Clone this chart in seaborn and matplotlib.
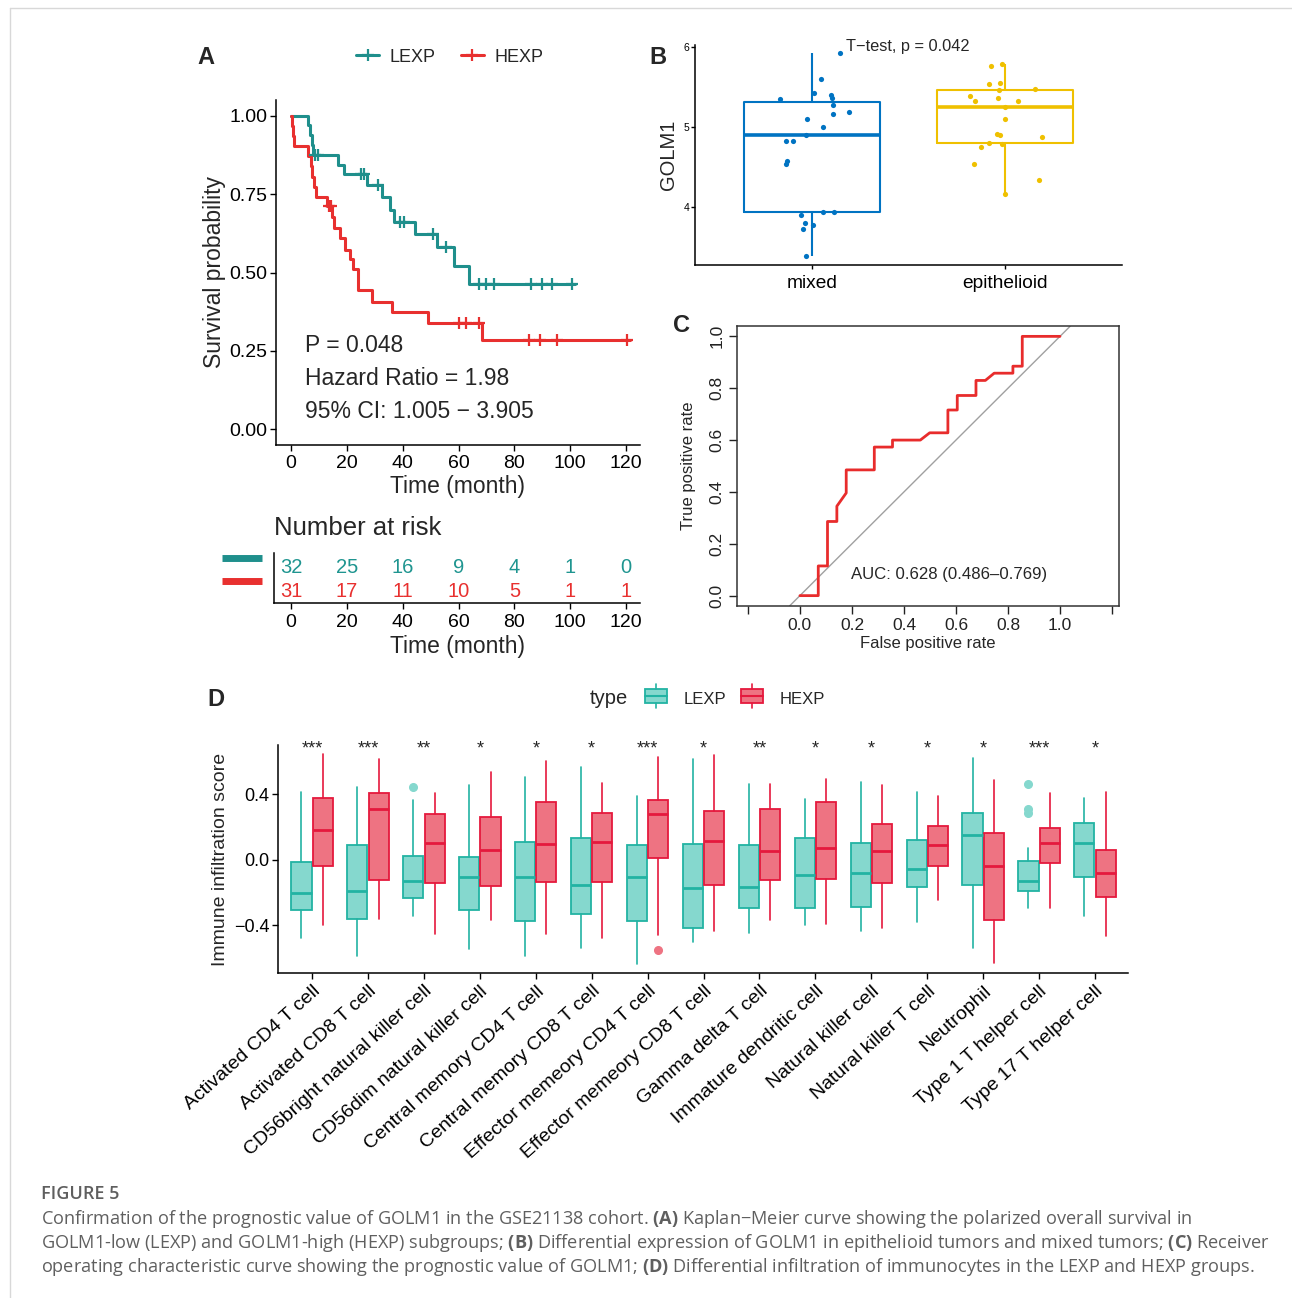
import numpy as np
import pandas as pd
import matplotlib
matplotlib.use("Agg")
import matplotlib.pyplot as plt
from matplotlib.lines import Line2D
from matplotlib.patches import Patch, Rectangle
from matplotlib.legend_handler import HandlerPatch
import seaborn as sns

# ---------------- A: Kaplan-Meier ----------------
km_time_lexp = [0, 6.2, 6.8, 7.4, 8.0, 16.7, 18.8, 27.1, 32.5, 35.5, 36.7, 44.4, 52.2, 58.2, 63.8, 101.8]
km_surv_lexp = [1.0, 0.969, 0.938, 0.906, 0.875, 0.844, 0.8125, 0.78, 0.74, 0.70, 0.662, 0.622, 0.58, 0.52, 0.463, 0.463]
km_cens_lexp = [8.6, 9.6, 25.1, 26.0, 31.3, 39.1, 40.4, 50.8, 55.6, 67.4, 69.9, 72.8, 85.9, 89.8, 93.5, 100.6]

km_time_hexp = [0, 0.3, 0.6, 1.0, 6.2, 7.0, 7.6, 8.2, 8.8, 12.8, 14.6, 15.2, 17.6, 19.4, 21.1, 22.3,
                24.1, 28.9, 36.1, 49.2, 68.3, 121.4]
km_surv_hexp = [1.0, 0.968, 0.935, 0.903, 0.871, 0.839, 0.806, 0.774, 0.742, 0.712, 0.677, 0.641, 0.609,
                0.572, 0.543, 0.51, 0.444, 0.407, 0.373, 0.338, 0.285, 0.285]
km_cens_hexp = [13.5, 14.3, 60.0, 62.7, 67.5, 85.3, 89.2, 95.2, 120.3]

risk_times = [0, 20, 40, 60, 80, 100, 120]
risk_lexp = [32, 25, 16, 9, 4, 1, 0]
risk_hexp = [31, 17, 11, 10, 5, 1, 1]

# ---------------- B: GOLM1 by histology ----------------
golm1_mixed = [5.926, 5.606, 5.42, 5.345, 5.404, 5.366, 5.278, 5.164, 5.185, 5.097, 4.996, 4.90, 4.827,
               4.82, 4.575, 4.54, 3.943, 3.943, 3.90, 3.804, 3.779, 3.72, 3.383]
jit_mixed = [0.144, 0.048, 0.01, -0.166, 0.096, 0.103, 0.11, 0.11, 0.19, -0.024, 0.055, -0.03, -0.135,
             -0.10, -0.13, -0.137, 0.056, 0.115, -0.058, -0.034, 0.005, -0.045, -0.033]
golm1_epi = [5.783, 5.758, 5.539, 5.547, 5.463, 5.472, 5.39, 5.328, 5.36, 5.324, 5.253, 5.10, 4.91,
             4.895, 4.87, 4.806, 4.79, 4.75, 4.541, 4.335, 4.162]
jit_epi = [-0.017, -0.074, -0.082, -0.027, -0.031, 0.154, -0.18, -0.158, -0.038, 0.068, 0.0, 0.0, -0.041,
           -0.026, 0.192, -0.082, -0.014, -0.123, -0.161, 0.175, 0.0]

# ---------------- C: ROC ----------------
roc_fpr = [0, 0.0705, 0.0705, 0.106, 0.106, 0.142, 0.142, 0.178, 0.178, 0.286, 0.286, 0.356, 0.356,
           0.463, 0.499, 0.569, 0.569, 0.605, 0.605, 0.677, 0.677, 0.713, 0.747, 0.819, 0.819, 0.855,
           0.855, 1.0]
roc_tpr = [0, 0, 0.1145, 0.1145, 0.286, 0.286, 0.345, 0.396, 0.485, 0.485, 0.573, 0.573, 0.6,
           0.6, 0.628, 0.628, 0.716, 0.716, 0.772, 0.772, 0.83, 0.83, 0.858, 0.858, 0.885, 0.885,
           1.0, 1.0]

# ---------------- D: immune infiltration ----------------
cells = ["Activated CD4 T cell", "Activated CD8 T cell", "CD56bright natural killer cell",
         "CD56dim natural killer cell", "Central memory CD4 T cell", "Central memory CD8 T cell",
         "Effector memeory CD4 T cell", "Effector memeory CD8 T cell", "Gamma delta T cell",
         "Immature dendritic cell", "Natural killer cell", "Natural killer T cell", "Neutrophil",
         "Type 1 T helper cell", "Type 17 T helper cell"]
# whisker low, Q1, median, Q3, whisker high
lexp_stats = [(-0.479, -0.303, -0.200, -0.012, 0.415), (-0.589, -0.360, -0.193, 0.088, 0.442),
              (-0.344, -0.232, -0.128, 0.026, 0.363), (-0.544, -0.303, -0.102, 0.018, 0.458),
              (-0.585, -0.373, -0.104, 0.108, 0.503), (-0.536, -0.332, -0.155, 0.134, 0.568),
              (-0.635, -0.375, -0.102, 0.088, 0.391), (-0.501, -0.415, -0.169, 0.098, 0.615),
              (-0.448, -0.295, -0.163, 0.088, 0.460), (-0.397, -0.295, -0.094, 0.136, 0.371),
              (-0.436, -0.285, -0.081, 0.102, 0.477), (-0.377, -0.165, -0.059, 0.118, 0.411),
              (-0.538, -0.151, 0.149, 0.287, 0.621), (-0.295, -0.189, -0.128, -0.008, 0.071),
              (-0.342, -0.104, 0.100, 0.222, 0.375)]
hexp_stats = [(-0.400, -0.039, 0.183, 0.379, 0.644), (-0.358, -0.120, 0.312, 0.407, 0.615),
              (-0.452, -0.140, 0.102, 0.279, 0.409), (-0.367, -0.161, 0.061, 0.259, 0.534),
              (-0.450, -0.136, 0.098, 0.354, 0.605), (-0.475, -0.136, 0.106, 0.285, 0.468),
              (-0.456, 0.010, 0.279, 0.363, 0.625), (-0.434, -0.153, 0.114, 0.295, 0.637),
              (-0.365, -0.124, 0.051, 0.310, 0.464), (-0.393, -0.118, 0.071, 0.350, 0.491),
              (-0.413, -0.143, 0.053, 0.220, 0.458), (-0.246, -0.037, 0.088, 0.204, 0.391),
              (-0.629, -0.365, -0.037, 0.165, 0.487), (-0.295, -0.022, 0.100, 0.191, 0.405),
              (-0.466, -0.228, -0.079, 0.061, 0.415)]
lexp_outliers = {2: [0.446], 13: [0.464, 0.308, 0.283]}
hexp_outliers = {6: [-0.548]}
signif = ["***", "***", "**", "*", "*", "*", "***", "*", "**", "*", "*", "*", "*", "***", "*"]

# ---------------- style ----------------
sns.set_theme(style="white")
plt.rcParams["font.family"] = ["Liberation Sans", "DejaVu Sans"]
plt.rcParams["mathtext.fontset"] = "custom"
plt.rcParams["mathtext.rm"] = "Open Sans"
plt.rcParams["mathtext.bf"] = "Open Sans:bold"

TEAL = "#1F8F8C"
RED = "#E8302F"
W, H = 1292, 1298
fig = plt.figure(figsize=(W / 100, H / 100), dpi=100)


def rect(l, t, r, b):
    return [l / W, 1 - b / H, (r - l) / W, (b - t) / H]


def style_axes(ax, size):
    for s in ["top", "right"]:
        ax.spines[s].set_visible(False)
    for s in ["left", "bottom"]:
        ax.spines[s].set_color("black")
        ax.spines[s].set_linewidth(1.1)
    ax.tick_params(direction="out", length=4, width=1, colors="black", labelsize=size, pad=2,
                   left=True, bottom=True)


# ---- A
ax_a = fig.add_axes(rect(276, 100, 640, 445))
sns.lineplot(x=km_time_lexp, y=km_surv_lexp, drawstyle="steps-post", estimator=None, sort=False,
             color=TEAL, linewidth=2.2, ax=ax_a)
sns.lineplot(x=km_time_hexp, y=km_surv_hexp, drawstyle="steps-post", estimator=None, sort=False,
             color=RED, linewidth=2.2, ax=ax_a)
for times, surv, cens, col in [(km_time_lexp, km_surv_lexp, km_cens_lexp, TEAL),
                               (km_time_hexp, km_surv_hexp, km_cens_hexp, RED)]:
    idx = np.searchsorted(times, cens, side="right") - 1
    ax_a.plot(cens, np.asarray(surv)[idx], "+", color=col, ms=9, mew=1.6)
ax_a.set_xlim(-5.4, 125)
ax_a.set_ylim(-0.05, 1.05)
ax_a.set_xticks(risk_times)
ax_a.set_yticks([0, 0.25, 0.5, 0.75, 1.0])
ax_a.set_yticklabels(["0.00", "0.25", "0.50", "0.75", "1.00"])
style_axes(ax_a, 14)
ax_a.tick_params(axis="x", pad=3)
ax_a.set_xlabel("Time (month)", fontsize=16.5, labelpad=2)
ax_a.set_ylabel("Survival probability", fontsize=16.5, labelpad=3)
for y, txt in [(0.268, "P = 0.048"), (0.163, "Hazard Ratio = 1.98"), (0.0575, "95% CI: 1.005 \u2212 3.905")]:
    ax_a.text(5.0, y, txt, fontsize=16.5, ha="left", va="center")
km_handles = [Line2D([], [], color=TEAL, lw=2.2, marker="+", ms=9, mew=1.6),
              Line2D([], [], color=RED, lw=2.2, marker="+", ms=9, mew=1.6)]
fig.legend(km_handles, ["LEXP", "HEXP"], loc="center", bbox_to_anchor=(450 / W, 1 - 57 / H), ncol=2,
           frameon=False, fontsize=13, handlelength=1.25, columnspacing=1.4, handletextpad=0.6)

# risk table
ax_r = fig.add_axes(rect(274, 553, 640, 603))
ax_r.set_xlim(-5.4 - 2 / 2.79, 125)
ax_r.set_ylim(-0.5, 1.6)
for t, nl, nh in zip(risk_times, risk_lexp, risk_hexp):
    ax_r.text(t, 1, str(nl), color="#1F9590", fontsize=14.5, ha="center", va="center")
    ax_r.text(t, 0, str(nh), color=RED, fontsize=14.5, ha="center", va="center")
ax_r.set_xticks(risk_times)
ax_r.set_yticks([])
style_axes(ax_r, 14)
ax_r.tick_params(left=False, pad=4)
ax_r.set_xlabel("Time (month)", fontsize=16.5, labelpad=3)
ax_r.text(0.0, 1.5, "Number at risk", transform=ax_r.transAxes, fontsize=18.5, ha="left", va="center")
for yy, col in [(0.9, TEAL), (0.44, RED)]:
    ax_r.plot([-0.142, -0.033], [yy, yy], color=col, lw=5, transform=ax_r.transAxes, clip_on=False,
              solid_capstyle="butt")

# ---- B
ax_b = fig.add_axes(rect(695, 45, 1122, 265))
dfb = pd.DataFrame({"group": ["mixed"] * len(golm1_mixed) + ["epithelioid"] * len(golm1_epi),
                    "GOLM1": golm1_mixed + golm1_epi})
sns.boxplot(data=dfb, x="group", y="GOLM1", hue="group", order=["mixed", "epithelioid"],
            palette={"mixed": "#0073C2", "epithelioid": "#EFC000"}, fill=False, width=0.705,
            showfliers=False, whis=1.5, linewidth=1.5, ax=ax_b, legend=False,
            whiskerprops={"linewidth": 1.5}, capprops={"linewidth": 0}, medianprops={"linewidth": 2.6})
ax_b.scatter(np.array(jit_mixed), golm1_mixed, s=14, color="#0073C2", zorder=3, linewidths=0)
ax_b.scatter(1 + np.array(jit_epi), golm1_epi, s=14, color="#EFC000", zorder=3, linewidths=0)
ax_b.set_xlim(-0.606, 1.606)
ax_b.set_ylim(3.275, 6.025)
ax_b.set_yticks([4, 5, 6])
style_axes(ax_b, 7.5)
ax_b.tick_params(axis="x", labelsize=13.8, length=3, pad=4)
ax_b.tick_params(axis="y", length=3, pad=1)
ax_b.set_xlabel("")
ax_b.set_ylabel("GOLM1", fontsize=14.5, labelpad=4)
ax_b.text(0.176, 6.0, "T\u2212test, p = 0.042", fontsize=11.8, ha="left", va="center")

# ---- C
ax_c = fig.add_axes(rect(737, 326, 1119, 606))
ax_c.axline((0, 0), (1, 1), color="#A0A0A0", lw=1)
sns.lineplot(x=roc_fpr, y=roc_tpr, estimator=None, sort=False, color="#E82C2C", linewidth=2, ax=ax_c)
ax_c.set_xlim(-0.242, 1.227)
ax_c.set_ylim(-0.04, 1.04)
xt = [-0.2, 0, 0.2, 0.4, 0.6, 0.8, 1.0, 1.2]
ax_c.set_xticks(xt)
ax_c.set_xticklabels([""] + ["%.1f" % v for v in xt[1:-1]] + [""])
ax_c.set_yticks([0, 0.2, 0.4, 0.6, 0.8, 1.0])
ax_c.set_yticklabels(["%.1f" % v for v in [0, 0.2, 0.4, 0.6, 0.8, 1.0]], rotation=90, va="center")
for s in ax_c.spines.values():
    s.set_color("#333333")
    s.set_linewidth(1.1)
ax_c.tick_params(direction="out", length=6, width=1, colors="#222222", labelsize=12.5, pad=3,
                 left=True, bottom=True)
ax_c.set_xlabel("False positive rate", fontsize=12, labelpad=2)
ax_c.set_ylabel("True positive rate", fontsize=12, labelpad=10)
ax_c.text(0.573, 0.08, "AUC: 0.628 (0.486\u20130.769)", fontsize=12.1, ha="center", va="center")

# ---- D
LEXP_EDGE, LEXP_FACE = "#22B3A3", "#85D8CE"
HEXP_EDGE, HEXP_FACE = "#E5193D", "#EE7382"
ax_d = fig.add_axes(rect(278, 745, 1128, 973))
pos = np.arange(len(cells))
for stats_list, outl, off, ec, fc in [(lexp_stats, lexp_outliers, -0.19, LEXP_EDGE, LEXP_FACE),
                                      (hexp_stats, hexp_outliers, 0.19, HEXP_EDGE, HEXP_FACE)]:
    bstats = [{"whislo": s[0], "q1": s[1], "med": s[2], "q3": s[3], "whishi": s[4],
               "fliers": outl.get(i, [])} for i, s in enumerate(stats_list)]
    ax_d.bxp(bstats, positions=pos + off, widths=0.36, patch_artist=True, showcaps=False,
             manage_ticks=False,
             boxprops={"facecolor": fc, "edgecolor": ec, "linewidth": 1.3},
             medianprops={"color": ec, "linewidth": 2.0},
             whiskerprops={"color": ec, "linewidth": 1.2},
             flierprops={"marker": "o", "markerfacecolor": fc, "markeredgecolor": fc, "markersize": 5.5})
ax_d.set_xlim(-0.61, 14.59)
ax_d.set_ylim(-0.69, 0.70)
ax_d.set_xticks(pos)
ax_d.set_xticklabels(cells, rotation=42, ha="right", rotation_mode="anchor")
ax_d.set_yticks([-0.4, 0.0, 0.4])
ax_d.set_yticklabels(["\u22120.4", "0.0", "0.4"])
style_axes(ax_d, 13)
ax_d.tick_params(axis="x", labelsize=14, pad=3)
ax_d.set_ylabel("Immune infiltration score", fontsize=14, labelpad=4)
for i, s in enumerate(signif):
    ax_d.text(i, 0.675, s, fontsize=13, ha="center", va="center", clip_on=False)


class BoxHandler(HandlerPatch):
    def create_artists(self, legend, orig, xd, yd, w, h, fs, trans):
        r = Rectangle((xd, yd), w, h, facecolor=orig.get_facecolor(), edgecolor=orig.get_edgecolor(),
                      lw=1.3, transform=trans)
        m = Line2D([xd, xd + w], [yd + h / 2] * 2, color=orig.get_edgecolor(), lw=1.5, transform=trans)
        w1 = Line2D([xd + w / 2] * 2, [yd + h, yd + h * 1.35], color=orig.get_edgecolor(), lw=1.2,
                    transform=trans)
        w2 = Line2D([xd + w / 2] * 2, [yd, yd - h * 0.35], color=orig.get_edgecolor(), lw=1.2,
                    transform=trans)
        return [r, m, w1, w2]


d_handles = [Patch(facecolor=LEXP_FACE, edgecolor=LEXP_EDGE), Patch(facecolor=HEXP_FACE, edgecolor=HEXP_EDGE)]
fig.text(609 / W, 1 - 699 / H, "type", fontsize=14.5, ha="center", va="center")
fig.legend(d_handles, ["LEXP", "HEXP"], loc="center left", bbox_to_anchor=(630 / W, 1 - 699 / H), ncol=2,
           frameon=False, fontsize=12, handlelength=1.3, handleheight=0.9, columnspacing=0.9,
           handletextpad=1.0, handler_map={Patch: BoxHandler()})

# panel letters
for x, y, L in [(206, 57, "A"), (658, 57, "B"), (681, 325, "C"), (216, 699, "D")]:
    fig.text(x / W, 1 - y / H, L, fontsize=17, fontweight="bold", ha="center", va="center")

# caption
CAP = "#5F5F5F"
fig.text(41 / W, 1 - 1194 / H, "FIGURE 5", fontsize=13, color=CAP, fontweight="semibold",
         family="Open Sans", ha="left", va="center")
cap_lines = [
    "Confirmation of the prognostic value of GOLM1 in the GSE21138 cohort. $\\mathbf{(A)}$ Kaplan\u2212Meier "
    "curve showing the polarized overall survival in",
    "GOLM1-low (LEXP) and GOLM1-high (HEXP) subgroups; $\\mathbf{(B)}$ Differential expression of GOLM1 in "
    "epithelioid tumors and mixed tumors; $\\mathbf{(C)}$ Receiver",
    "operating characteristic curve showing the prognostic value of GOLM1; $\\mathbf{(D)}$ Differential "
    "infiltration of immunocytes in the LEXP and HEXP groups.",
]
for k, line in enumerate(cap_lines):
    fig.text(41 / W, 1 - (1219 + 24 * k) / H, line, fontsize=13.1, color=CAP, family="Open Sans",
             ha="left", va="center")

# figure frame
fig.add_artist(Line2D([10 / W, 1.0], [1 - 8 / H] * 2, color="#D8D8D8", lw=1, transform=fig.transFigure))
fig.add_artist(Line2D([10 / W] * 2, [0, 1 - 8 / H], color="#D8D8D8", lw=1, transform=fig.transFigure))

fig.savefig("out.png", dpi=100)
